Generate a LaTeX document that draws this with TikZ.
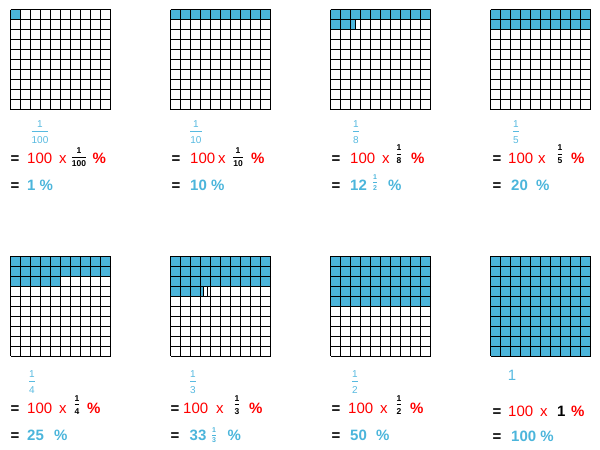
\documentclass[tikz,border=0pt]{standalone}
\usepackage{fontspec}
\setmainfont{Liberation Sans}
\usepackage{tikz}

\definecolor{cellblue}{RGB}{75,181,219}
\definecolor{fracblue}{RGB}{88,186,224}
\setlength{\arrayrulewidth}{0.7pt}
\newcommand{\fr}[3][3pt]{\begin{tabular}{@{}c@{}}#2\\\hline\smash{\raisebox{-#1}{#3}}\end{tabular}}

\begin{document}
\begin{tikzpicture}[
    x=1pt, y=-1pt,
    shadedpart/.style={fill=cellblue},
    gridline/.style={draw=black, line width=1pt},
    eq/.style={font=\fontsize{15}{18}\selectfont\bfseries, anchor=base, inner sep=0pt},
    big/.style={font=\fontsize{15}{18}\selectfont, anchor=base west, inner sep=0pt, text=red},
    pct/.style={big, font=\fontsize{15}{18}\selectfont\bfseries},
    res/.style={font=\fontsize{15}{18}\selectfont\bfseries, anchor=base west, inner sep=0pt, text=cellblue},
    topfrac/.style={font=\fontsize{10}{12}\selectfont, text=fracblue, inner sep=0pt},
    midfrac/.style={font=\fontsize{8.5}{10}\selectfont\bfseries, inner sep=0pt},
    resfrac/.style={font=\fontsize{7}{8.5}\selectfont\bfseries, text=cellblue, inner sep=0pt}
]
\useasboundingbox (0,0) rectangle (600,450);

\fill[shadedpart] (10.5,9.5) rectangle +(10,10);
\fill[shadedpart] (170.5,9.5) rectangle (270.5,19.5);
\fill[shadedpart] (330.5,9.5) rectangle (430.5,19.5) (330.5,19.5) rectangle (355.5,29.5);
\fill[shadedpart] (490.5,9.5) rectangle (590.5,29.5);
\fill[shadedpart] (10.5,256.3) rectangle (110.5,276.3) (10.5,276.3) rectangle (60.5,286.3);
\fill[shadedpart] (170.5,256.3) rectangle (270.5,286.3) (170.5,286.3) rectangle (203.83,296.3);
\fill[shadedpart] (330.5,256.3) rectangle (430.5,306.3);
\fill[shadedpart] (490.5,256.3) rectangle (590.5,356.3);

\foreach \ox/\oy in {10.5/9.5, 170.5/9.5, 330.5/9.5, 490.5/9.5, 10.5/256.3, 170.5/256.3, 330.5/256.3, 490.5/256.3}
  \foreach \k in {0,10,...,100} {
    \draw[gridline] (\ox+\k,\oy) -- (\ox+\k,\oy+100);
    \draw[gridline] (\ox,\oy+\k) -- (\ox+100,\oy+\k);
  }
\draw[gridline] (355.5,19.5) -- (355.5,29.5);
\draw[gridline] (203.83,286.3) -- (203.83,296.3);
\draw[gridline] (207.17,286.3) -- (207.17,296.3);

\node[topfrac] (f1) at (40,131) {\fr[3.5pt]{1}{100}};
\node[eq] (e1a) at (15,163) {=};
\node[big] (h1) at (27,163) {100};
\node[big] (x1) at (59,163) {x};
\node[midfrac] (g1) at (79,157) {\fr[2.5pt]{1}{100}};
\node[pct] (p1) at (92.5,163) {\%};
\node[eq] (e1b) at (15,190) {=};
\node[res] (r1) at (27,190) {1 \%};

\node[topfrac] (f2) at (196,131) {\fr[3.5pt]{1}{10}};
\node[eq] (e2a) at (176,163) {=};
\node[big] (h2) at (190,163) {100};
\node[big] (x2) at (218,163) {x};
\node[midfrac] (g2) at (238,157) {\fr[2.5pt]{1}{10}};
\node[pct] (p2) at (251,163) {\%};
\node[eq] (e2b) at (176,190) {=};
\node[res] (r2) at (190,190) {10 \%};

\node[topfrac] (f3) at (356,131) {\fr[3.5pt]{1}{8}};
\node[eq] (e3a) at (336,163) {=};
\node[big] (h3) at (350,163) {100};
\node[big] (x3) at (382,163) {x};
\node[midfrac] (g3) at (399,154) {\fr[2pt]{1}{8}};
\node[pct] (p3) at (411,163) {\%};
\node[eq] (e3b) at (336,190) {=};
\node[res] (r3) at (350,190) {12};
\node[resfrac] (q3) at (375,182.5) {\fr[1.5pt]{1}{2}};
\node[res] (s3) at (388,190) {\%};

\node[topfrac] (f4) at (516,131) {\fr[3.5pt]{1}{5}};
\node[eq] (e4a) at (497,163) {=};
\node[big] (h4) at (508,163) {100};
\node[big] (x4) at (538,163) {x};
\node[midfrac] (g4) at (560,154) {\fr[2pt]{1}{5}};
\node[pct] (p4) at (571,163) {\%};
\node[eq] (e4b) at (497,190) {=};
\node[res] (r4) at (511,190) {20};
\node[res] (s4) at (536,190) {\%};

\node[topfrac] (f5) at (32,381) {\fr[3.5pt]{1}{4}};
\node[eq] (e5a) at (15,413) {=};
\node[big] (h5) at (27,413) {100};
\node[big] (x5) at (59,413) {x};
\node[midfrac] (g5) at (77,404.5) {\fr[2.5pt]{1}{4}};
\node[pct] (p5) at (87,413) {\%};
\node[eq] (e5b) at (15,440) {=};
\node[res] (r5) at (27,440) {25};
\node[res] (s5) at (54,440) {\%};

\node[topfrac] (f6) at (193,381) {\fr[3.5pt]{1}{3}};
\node[eq] (e6a) at (175,413) {=};
\node[big] (h6) at (183,413) {100};
\node[big] (x6) at (216,413) {x};
\node[midfrac] (g6) at (237,404.5) {\fr[2.5pt]{1}{3}};
\node[pct] (p6) at (249,413) {\%};
\node[eq] (e6b) at (175,440) {=};
\node[res] (r6) at (189.5,440) {33};
\node[resfrac] (q6) at (214,435) {\fr[1.5pt]{1}{3}};
\node[res] (s6) at (227.5,440) {\%};

\node[topfrac] (f7) at (355,381) {\fr[3.5pt]{1}{2}};
\node[eq] (e7a) at (336,413) {=};
\node[big] (h7) at (348,413) {100};
\node[big] (x7) at (380,413) {x};
\node[midfrac] (g7) at (399,404.5) {\fr[2.5pt]{1}{2}};
\node[pct] (p7) at (410,413) {\%};
\node[eq] (e7b) at (336,440) {=};
\node[res] (r7) at (350,440) {50};
\node[res] (s7) at (376,440) {\%};

\node[eq, text=fracblue, font=\fontsize{15}{18}\selectfont] (f8) at (512,380) {1};
\node[eq] (e8a) at (497,416) {=};
\node[big] (h8) at (508,416) {100};
\node[big] (x8) at (540,416) {x};
\node[big, text=black, font=\fontsize{15}{18}\selectfont\bfseries] (g8) at (557,416) {1};
\node[pct] (p8) at (571,416) {\%};
\node[eq] (e8b) at (497,441) {=};
\node[res] (r8) at (511,441) {100 \%};
\end{tikzpicture}
\end{document}
